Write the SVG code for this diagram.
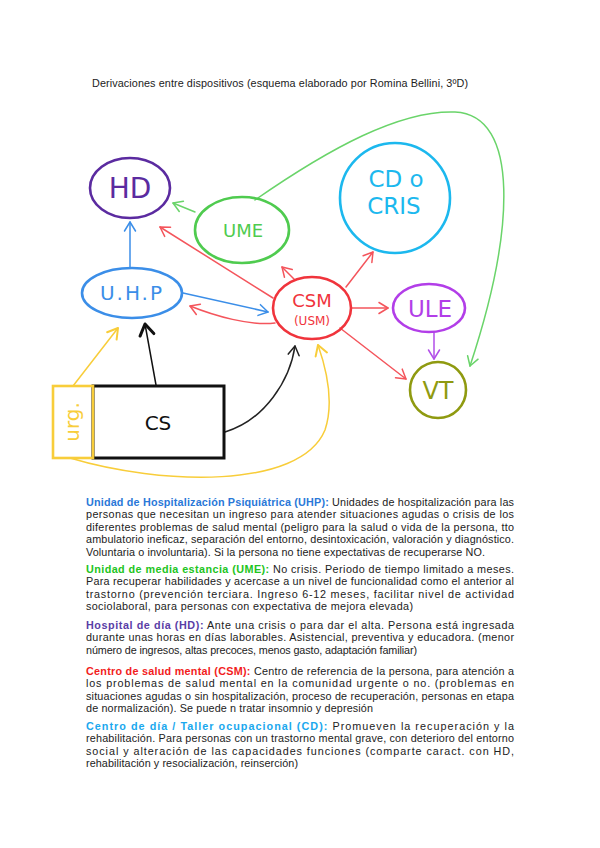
<svg xmlns="http://www.w3.org/2000/svg" width="600" height="848" viewBox="0 0 600 848">
<style>
.t{font-family:"Liberation Sans",Arial,sans-serif;font-size:10.8px;fill:#222}
.b{font-weight:bold}
.hand{font-family:"DejaVu Sans","Liberation Sans",sans-serif;text-anchor:middle}
.n{fill:none;stroke-width:2.6}
.c{fill:none;stroke-width:1.5;stroke-linecap:round}
</style>
<defs>
<marker id="mr" markerUnits="userSpaceOnUse" orient="auto" overflow="visible" markerWidth="1" markerHeight="1"><path d="M-9-5.5L0 0L-9 5.5" fill="none" stroke="#f4555c" stroke-width="1.5" stroke-linecap="round" stroke-linejoin="round"/></marker>
<marker id="mb" markerUnits="userSpaceOnUse" orient="auto" overflow="visible" markerWidth="1" markerHeight="1"><path d="M-9-5.5L0 0L-9 5.5" fill="none" stroke="#3b8ee8" stroke-width="1.5" stroke-linecap="round" stroke-linejoin="round"/></marker>
<marker id="mg" markerUnits="userSpaceOnUse" orient="auto" overflow="visible" markerWidth="1" markerHeight="1"><path d="M-9-5.5L0 0L-9 5.5" fill="none" stroke="#6ad46a" stroke-width="1.5" stroke-linecap="round" stroke-linejoin="round"/></marker>
<marker id="mk" markerUnits="userSpaceOnUse" orient="auto" overflow="visible" markerWidth="1" markerHeight="1"><path d="M-9-5.5L0 0L-9 5.5" fill="none" stroke="#222" stroke-width="1.5" stroke-linecap="round" stroke-linejoin="round"/></marker>
<marker id="mk2" markerUnits="userSpaceOnUse" orient="auto" overflow="visible" markerWidth="1" markerHeight="1"><path d="M-11-7L0 0L-11 7" fill="none" stroke="#111" stroke-width="3" stroke-linecap="round" stroke-linejoin="round"/></marker>
<marker id="my" markerUnits="userSpaceOnUse" orient="auto" overflow="visible" markerWidth="1" markerHeight="1"><path d="M-10-6L0 0L-10 6" fill="none" stroke="#f8cd3a" stroke-width="2" stroke-linecap="round" stroke-linejoin="round"/></marker>
<marker id="mp" markerUnits="userSpaceOnUse" orient="auto" overflow="visible" markerWidth="1" markerHeight="1"><path d="M-9-5.5L0 0L-9 5.5" fill="none" stroke="#b24ee8" stroke-width="1.5" stroke-linecap="round" stroke-linejoin="round"/></marker>
</defs>
<rect width="600" height="848" fill="#fff"/>
<text class="t" x="92" y="87" textLength="376" lengthAdjust="spacing">Derivaciones entre dispositivos (esquema elaborado por Romina Bellini, 3ºD)</text>

<g id="connectors">
<path class="c" stroke="#6ad46a" d="M255 200C330 148 400 110 455 112C520 115 515 230 470 366" marker-end="url(#mg)"/>
<path class="c" stroke="#3b8ee8" d="M130 268L130 222" marker-end="url(#mb)"/>
<path class="c" stroke="#6ad46a" d="M195 212L173 203" marker-end="url(#mg)"/>
<path class="c" stroke="#f4555c" d="M273 298L160 227" marker-end="url(#mr)"/>
<path class="c" stroke="#3b8ee8" d="M183 293L268 312" marker-end="url(#mb)"/>
<path class="c" stroke="#f4555c" d="M275 323C250 326 215 316 190 306" marker-end="url(#mr)"/>
<path class="c" stroke="#f4555c" d="M295 280L282 267" marker-end="url(#mr)"/>
<path class="c" stroke="#f4555c" d="M346 287L373 252" marker-end="url(#mr)"/>
<path class="c" stroke="#f4555c" d="M351 308L388 308" marker-end="url(#mr)"/>
<path class="c" stroke="#f4555c" d="M340 328L406 379" marker-end="url(#mr)"/>
<path class="c" stroke="#b24ee8" d="M434 332L434 359" marker-end="url(#mp)"/>
<path class="c" stroke="#111" stroke-width="3" d="M156 385L145 324" marker-end="url(#mk2)"/>
<path class="c" stroke="#f8cd3a" stroke-width="2" d="M73 386L118 328" marker-end="url(#my)"/>
<path class="c" stroke="#222" d="M225 432C265 420 290 380 295 346" marker-end="url(#mk)"/>
<path class="c" stroke="#f8cd3a" d="M70 458C160 485 300 490 325 430C335 400 325 365 318 345" marker-end="url(#my)"/>
</g>

<g id="HD">
<ellipse class="n" cx="130" cy="188" rx="40" ry="30" stroke="#5b2ba0"/>
<text class="hand" x="130" y="198" font-size="28" fill="#5b2ba0">HD</text>
</g>
<g id="UME">
<ellipse class="n" cx="242" cy="230" rx="47" ry="33" stroke="#4fcb4f"/>
<text class="hand" x="243" y="237" font-size="18" fill="#4fcb4f">UME</text>
</g>
<g id="UHP">
<ellipse class="n" cx="132" cy="293" rx="50" ry="25" stroke="#3b8ee8"/>
<text class="hand" x="132" y="300" font-size="20" fill="#3b8ee8" letter-spacing="2">U.H.P</text>
</g>
<g id="CD">
<circle class="n" cx="395" cy="198" r="55" stroke="#1cb8ee"/>
<text class="hand" x="396" y="187" font-size="23" fill="#1cb8ee">CD o</text>
<text class="hand" x="394" y="214" font-size="23" fill="#1cb8ee">CRIS</text>
</g>
<g id="CSM">
<ellipse class="n" cx="312" cy="308" rx="39" ry="31" stroke="#f0343c"/>
<text class="hand" x="312" y="307" font-size="18" fill="#f0343c">CSM</text>
<text class="hand" x="312" y="325" font-size="12" fill="#f0343c">(USM)</text>
</g>
<g id="ULE">
<ellipse class="n" cx="429" cy="308" rx="36" ry="24" stroke="#b23ee8"/>
<text class="hand" x="430" y="317" font-size="23" fill="#b23ee8">ULE</text>
</g>
<g id="VT">
<circle class="n" cx="438" cy="390" r="28" stroke="#8f9a10"/>
<text class="hand" x="438" y="399" font-size="24" fill="#8f9a10">VT</text>
</g>
<g id="CS">
<rect x="93" y="386" width="131" height="72" fill="none" stroke="#111" stroke-width="3"/>
<text class="hand" x="158" y="430" font-size="20" fill="#111">CS</text>
</g>
<g id="urg">
<rect x="53" y="386" width="40" height="72" fill="none" stroke="#f8cd3a" stroke-width="2.6"/>
<text class="hand" transform="translate(79 422) rotate(-90)" x="0" y="0" font-size="20" fill="#f8cd3a">urg.</text>
</g>

<g id="texto">
<text class="t" x="86" y="506" textLength="428" lengthAdjust="spacing"><tspan class="b" fill="#2a78d8">Unidad de Hospitalización Psiquiátrica (UHP):</tspan> Unidades de hospitalización para las</text>
<text class="t" x="86" y="518.4" textLength="428" lengthAdjust="spacing">personas que necesitan un ingreso para atender situaciones agudas o crisis de los</text>
<text class="t" x="86" y="530.8" textLength="428" lengthAdjust="spacing">diferentes problemas de salud mental (peligro para la salud o vida de la persona, tto</text>
<text class="t" x="86" y="543.2" textLength="428" lengthAdjust="spacing">ambulatorio ineficaz, separación del entorno, desintoxicación, valoración y diagnóstico.</text>
<text class="t" x="86" y="555.6" textLength="399" lengthAdjust="spacing">Voluntaria o involuntaria). Si la persona no tiene expectativas de recuperarse NO.</text>

<text class="t" x="86" y="573" textLength="428" lengthAdjust="spacing"><tspan class="b" fill="#22c422">Unidad de media estancia (UME):</tspan> No crisis. Periodo de tiempo limitado a meses.</text>
<text class="t" x="86" y="585.4" textLength="428" lengthAdjust="spacing">Para recuperar habilidades y acercase a un nivel de funcionalidad como el anterior al</text>
<text class="t" x="86" y="597.8" textLength="428" lengthAdjust="spacing">trastorno (prevención terciara. Ingreso 6-12 meses, facilitar nivel de actividad</text>
<text class="t" x="86" y="610.2" textLength="327" lengthAdjust="spacing">sociolaboral, para personas con expectativa de mejora elevada)</text>

<text class="t" x="86" y="629" textLength="428" lengthAdjust="spacing"><tspan class="b" fill="#5a3ea6">Hospital de día (HD):</tspan> Ante una crisis o para dar el alta. Persona está ingresada</text>
<text class="t" x="86" y="641.4" textLength="428" lengthAdjust="spacing">durante unas horas en días laborables. Asistencial, preventiva y educadora. (menor</text>
<text class="t" x="86" y="653.8" textLength="331" lengthAdjust="spacing">número de ingresos, altas precoces, menos gasto, adaptación familiar)</text>

<text class="t" x="86" y="675" textLength="428" lengthAdjust="spacing"><tspan class="b" fill="#f21c1c">Centro de salud mental (CSM):</tspan> Centro de referencia de la persona, para atención a</text>
<text class="t" x="86" y="687.4" textLength="428" lengthAdjust="spacing">los problemas de salud mental en la comunidad urgente o no. (problemas en</text>
<text class="t" x="86" y="699.8" textLength="428" lengthAdjust="spacing">situaciones agudas o sin hospitalización, proceso de recuperación, personas en etapa</text>
<text class="t" x="86" y="712.2" textLength="287" lengthAdjust="spacing">de normalización). Se puede n tratar insomnio y depresión</text>

<text class="t" x="86" y="730" textLength="428" lengthAdjust="spacing"><tspan class="b" fill="#1aa8ee">Centro de día / Taller ocupacional (CD):</tspan> Promueven la recuperación y la</text>
<text class="t" x="86" y="742.4" textLength="428" lengthAdjust="spacing">rehabilitación. Para personas con un trastorno mental grave, con deterioro del entorno</text>
<text class="t" x="86" y="754.8" textLength="428" lengthAdjust="spacing">social y alteración de las capacidades funciones (comparte caract. con HD,</text>
<text class="t" x="86" y="767.2" textLength="212" lengthAdjust="spacing">rehabilitación y resocialización, reinserción)</text>
</g>
</svg>
